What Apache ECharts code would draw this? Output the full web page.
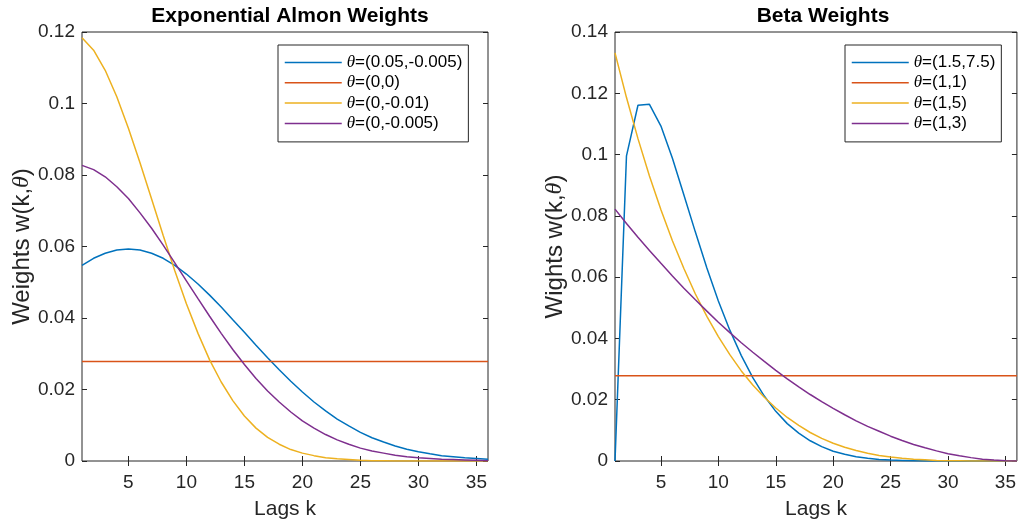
<!DOCTYPE html>
<html>
<head>
<meta charset="utf-8">
<script src="https://cdn.jsdelivr.net/npm/echarts@6/dist/echarts.min.js"></script>
<style>
html,body{margin:0;padding:0;background:#fff;}
#chart{width:1019px;height:525px;}
</style>
</head>
<body>
<div id="chart"></div>
<script>
// ---- data ----
var lags = [1,2,3,4,5,6,7,8,9,10,11,12,13,14,15,16,17,18,19,20,21,22,23,24,25,26,27,28,29,30,31,32,33,34,35,36];
var xTicks = [5,10,15,20,25,30,35];

var almonNames = ['θ=(0.05,-0.005)','θ=(0,0)','θ=(0,-0.01)','θ=(0,-0.005)'];
var almonA = [0.0547,0.0567,0.0581,0.0590,0.0593,0.0590,0.0581,0.0567,0.0547,0.0523,0.0495,0.0464,0.0431,0.0395,0.0360,0.0324,0.0289,0.0255,0.0223,0.0193,0.0165,0.0140,0.0117,0.0098,0.0080,0.0065,0.0053,0.0042,0.0033,0.0026,0.0020,0.0015,0.0012,0.0009,0.0007,0.0005];
var almonB = [0.0278,0.0278,0.0278,0.0278,0.0278,0.0278,0.0278,0.0278,0.0278,0.0278,0.0278,0.0278,0.0278,0.0278,0.0278,0.0278,0.0278,0.0278,0.0278,0.0278,0.0278,0.0278,0.0278,0.0278,0.0278,0.0278,0.0278,0.0278,0.0278,0.0278,0.0278,0.0278,0.0278,0.0278,0.0278,0.0278];
var almonC = [0.1184,0.1149,0.1093,0.1019,0.0931,0.0834,0.0733,0.0631,0.0532,0.0440,0.0357,0.0283,0.0221,0.0169,0.0126,0.0092,0.0066,0.0047,0.0032,0.0022,0.0015,0.0009,0.0006,0.0004,0.0002,0.0001,0.0001,0,0,0,0,0,0,0,0,0];
var almonD = [0.0827,0.0815,0.0795,0.0767,0.0734,0.0694,0.0651,0.0604,0.0554,0.0504,0.0454,0.0405,0.0357,0.0312,0.0270,0.0231,0.0196,0.0165,0.0137,0.0112,0.0092,0.0074,0.0059,0.0047,0.0036,0.0028,0.0022,0.0016,0.0012,0.0009,0.0007,0.0005,0.0004,0.0003,0.0002,0.0001];

var betaNames = ['θ=(1.5,7.5)','θ=(1,1)','θ=(1,5)','θ=(1,3)'];
var betaA = [0,0.0996,0.1161,0.1164,0.1093,0.0988,0.0868,0.0747,0.0630,0.0522,0.0427,0.0344,0.0272,0.0212,0.0162,0.0122,0.0091,0.0066,0.0047,0.0032,0.0022,0.0014,0.0009,0.0005,0.0003,0.0002,0.0001,0,0,0,0,0,0,0,0,0];
var betaB = [0.0278,0.0278,0.0278,0.0278,0.0278,0.0278,0.0278,0.0278,0.0278,0.0278,0.0278,0.0278,0.0278,0.0278,0.0278,0.0278,0.0278,0.0278,0.0278,0.0278,0.0278,0.0278,0.0278,0.0278,0.0278,0.0278,0.0278,0.0278,0.0278,0.0278,0.0278,0.0278,0.0278,0.0278,0.0278,0.0278];
var betaC = [0.1332,0.1186,0.1052,0.0930,0.0820,0.0719,0.0628,0.0545,0.0472,0.0406,0.0347,0.0294,0.0248,0.0208,0.0173,0.0142,0.0116,0.0093,0.0074,0.0058,0.0045,0.0034,0.0025,0.0018,0.0013,0.0009,0.0006,0.0004,0.0002,0.0001,0.0001,0,0,0,0,0];
var betaD = [0.0822,0.0775,0.0730,0.0687,0.0645,0.0604,0.0564,0.0526,0.0489,0.0453,0.0419,0.0386,0.0355,0.0325,0.0296,0.0268,0.0242,0.0217,0.0194,0.0172,0.0151,0.0131,0.0113,0.0097,0.0081,0.0067,0.0054,0.0043,0.0033,0.0024,0.0017,0.0011,0.0006,0.0003,0.0001,0];

var colors = ['#0072BD','#D95319','#EDB120','#7E2F8E'];
var FONT = '"Liberation Sans", Arial, Helvetica, sans-serif';
var AX = '#262626';

function pairs(vals){ return lags.map(function(k,i){ return [k, vals[i]]; }); }

function xAxes(g){
  return [
    {gridIndex:g, type:'value', min:1, max:36, position:'bottom',
     name:'Lags k', nameLocation:'middle', nameGap:38,
     nameTextStyle:{fontFamily:FONT, fontSize:21, color:AX},
     axisLine:{show:false},
     axisTick:{inside:true, length:5, customValues:xTicks, lineStyle:{color:AX}},
     axisLabel:{customValues:xTicks, fontFamily:FONT, fontSize:19, color:AX, margin:12},
     splitLine:{show:false}},
    {gridIndex:g, type:'value', min:1, max:36, position:'top',
     axisLine:{show:false},
     axisTick:{inside:true, length:5, customValues:xTicks, lineStyle:{color:AX}},
     axisLabel:{show:false}, splitLine:{show:false}}
  ];
}
function yAxes(g, max, nameTxt){
  return [
    {gridIndex:g, type:'value', min:0, max:max, interval:0.02, position:'left',
     name:nameTxt, nameLocation:'middle', nameGap:48,
     nameTextStyle:{fontFamily:FONT, fontSize:24, color:AX,
       rich:{t:{fontFamily:'"Liberation Serif", serif', fontStyle:'italic', fontSize:24, color:AX}}},
     axisLine:{show:false},
     axisTick:{inside:true, length:5, lineStyle:{color:AX}},
     axisLabel:{fontFamily:FONT, fontSize:19, color:AX, margin:7},
     splitLine:{show:false}},
    {gridIndex:g, type:'value', min:0, max:max, interval:0.02, position:'right',
     axisLine:{show:false},
     axisTick:{inside:true, length:5, lineStyle:{color:AX}},
     axisLabel:{show:false}, splitLine:{show:false}}
  ];
}
function mkSeries(names, arrs, xi, yi){
  return names.map(function(n,i){
    return {name:n, type:'line', xAxisIndex:xi, yAxisIndex:yi, data:pairs(arrs[i]),
      symbol:'none', showSymbol:false, smooth:false, animation:false,
      lineStyle:{width:1.5, color:colors[i]}, itemStyle:{color:colors[i]}};
  });
}
function mkLegend(names, left){
  return {
    data:names, left:left, top:45, orient:'vertical',
    itemWidth:57, itemHeight:14, itemGap:3.3, padding:[9,6,10,6],
    borderColor:AX, borderWidth:1, backgroundColor:'#fff',
    selectedMode:false,
    itemStyle:{opacity:0},
    lineStyle:{width:1.5},
    formatter:function(n){ return '{t|θ}' + n.slice(1); },
    textStyle:{fontFamily:FONT, fontSize:17, color:'#000',
      rich:{t:{fontFamily:'"Liberation Serif", serif', fontStyle:'italic', fontSize:17, color:'#000'}}}
  };
}

var chart = echarts.init(document.getElementById('chart'), null, {renderer:'canvas'});
var xs = xAxes(0).concat(xAxes(1));
var ys = yAxes(0, 0.12, 'Weights w(k,{t|θ})').concat(yAxes(1, 0.14, 'Wights w(k,{t|θ})'));
chart.setOption({
  animation:false,
  backgroundColor:'#fff',
  color:colors,
  title:[
    {text:'Exponential Almon Weights', left:285, top:1, textAlign:'center',
     textStyle:{fontFamily:FONT, fontSize:21, fontWeight:'bold', color:'#000'}},
    {text:'Beta Weights', left:818, top:1, textAlign:'center',
     textStyle:{fontFamily:FONT, fontSize:21, fontWeight:'bold', color:'#000'}}
  ],
  grid:[
    {left:82, top:32, width:406, height:429, show:true, borderColor:AX, borderWidth:1, backgroundColor:'transparent', containLabel:false},
    {left:615, top:32, width:406, height:429, show:true, borderColor:AX, borderWidth:1, backgroundColor:'transparent', containLabel:false}
  ],
  xAxis: xs,
  yAxis: ys,
  legend:[mkLegend(almonNames, 278), mkLegend(betaNames, 845)],
  series: mkSeries(almonNames, [almonA, almonB, almonC, almonD], 0, 0)
    .concat(mkSeries(betaNames, [betaA, betaB, betaC, betaD], 2, 2))
});
</script>
</body>
</html>
